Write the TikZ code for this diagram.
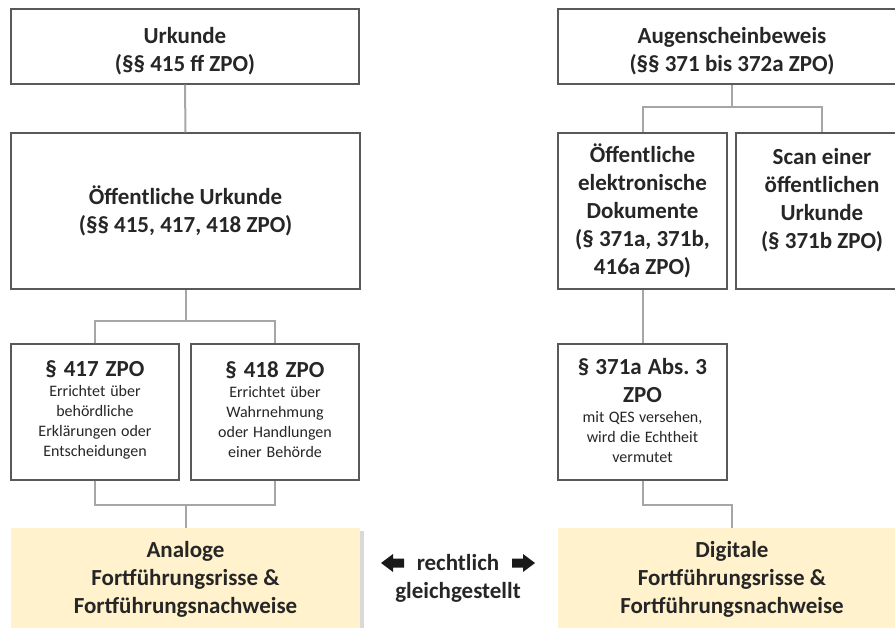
\documentclass[tikz,border=0pt]{standalone}
\usepackage{fontspec}
\setmainfont{Carlito}
\usetikzlibrary{calc}
\frenchspacing
\definecolor{txt}{HTML}{262626}
\definecolor{bord}{HTML}{595959}
\definecolor{conncol}{HTML}{A6A6A6}
\definecolor{yel}{HTML}{FFF2CC}
\newcommand{\bigf}{\fontsize{23}{28}\selectfont\bfseries\spaceskip=0pt\xspaceskip=0pt\relax}
\newcommand{\smf}{\fontsize{16}{20}\selectfont\mdseries\spaceskip=0pt\xspaceskip=0pt\relax}
\tikzset{
  box/.style={draw=bord, line width=1.2pt, fill=white, rectangle, inner sep=0pt, align=center, text=txt, font=\bigf},
  ybox/.style={fill=yel, rectangle, inner sep=0pt, align=center, text=txt, font=\bigf},
  lbl/.style={inner sep=0pt, align=center, text=txt, font=\bigf},
  conn/.style={draw=conncol, line width=2pt},
  blockarrow/.style={fill=black!90, draw=none}
}
\begin{document}
\begin{tikzpicture}[x=1pt,y=-1pt]
\useasboundingbox (0,0) rectangle (895,628);
\clip (0,0) rectangle (895,628);
% left column
\node[box, minimum width=348, minimum height=75] (urk) at (185,46.5) {};
\node[lbl] (urkT) at ([yshift=-5pt]urk.center) {\bigf Urkunde\\(§§ 415 ff ZPO)};
\node[box, minimum width=349, minimum height=156] (oeff) at (185.5,211) {\bigf Öffentliche Urkunde\\(§§ 415, 417, 418 ZPO)};
\node[box, minimum width=168, minimum height=136, text width=160] (p417) at (95,412)
  {\bigf § 417 ZPO\par\smf Errichtet über\\behördliche\\Erklärungen oder\\Entscheidungen\par\vspace{4pt}};
\node[box, minimum width=168, minimum height=136, text width=160] (p418) at (275,412)
  {\bigf § 418 ZPO\par\smf Errichtet über\\Wahrnehmung\\oder Handlungen\\einer Behörde\par\vspace{4pt}};
\fill[black!25, opacity=0.6] (12,531) rectangle (363.5,632);
\node[ybox, minimum width=349, minimum height=102] (ana) at (185.5,579) {\bigf Analoge\\Fortführungsrisse \&\\Fortführungsnachweise};
% right column
\node[box, minimum width=348, minimum height=75] (aug) at (732,46.5) {};
\node[lbl] (augT) at ([yshift=-4.5pt]aug.center) {\bigf Augenscheinbeweis\\(§§ 371 bis 372a ZPO)};
\node[box, minimum width=169, minimum height=156] (elek) at (642.5,211) {\bigf Öffentliche\\elektronische\\Dokumente\\(§ 371a, 371b,\\416a ZPO)};
\node[box, minimum width=172, minimum height=156] (scan) at (822,211) {};
\node[lbl] (scanT) at ([yshift=11pt]scan.center) {\bigf Scan einer\\öffentlichen\\Urkunde\\(§ 371b ZPO)};
\node[box, minimum width=169, minimum height=136, text width=160] (q371) at (642.5,412)
  {\bigf § 371a Abs.\ 3\\ZPO\par\smf mit QES versehen,\\wird die Echtheit\\vermutet\par\vspace{4pt}};
\node[ybox, minimum width=348, minimum height=102] (dig) at (732,579) {\bigf Digitale\\Fortführungsrisse \&\\Fortführungsnachweise};
% connectors
\draw[conn] (urk.south) -- (oeff.north);
\draw[conn] (p417.north) -- ++(0,-22) -| (oeff.south);
\draw[conn] (p418.north) -- ++(0,-22) -| (oeff.south);
\draw[conn] (p417.south) -- ++(0,24) -| (ana.north);
\draw[conn] (p418.south) -- ++(0,24) -| (ana.north);
\draw[conn] (elek.north) -- ++(0,-25) -| (aug.south);
\draw[conn] (scan.north) -- ++(0,-25) -| (aug.south);
\draw[conn] (elek.south) -- (q371.north);
\draw[conn] (q371.south) -- ++(0,24) -| (dig.north);
% middle label with block arrows
\node[lbl] (eq) at (458,578) {\bigf rechtlich\\gleichgestellt};
\coordinate (la) at (381,563);
\coordinate (ra) at (535,563);
\fill[blockarrow] (la) -- ++(12,-9) -- ++(0,4.5) -- ++(11,0) -- ++(0,9) -- ++(-11,0) -- ++(0,4.5) -- cycle;
\fill[blockarrow] (ra) -- ++(-12,-9) -- ++(0,4.5) -- ++(-11,0) -- ++(0,9) -- ++(11,0) -- ++(0,4.5) -- cycle;
\end{tikzpicture}
\end{document}
